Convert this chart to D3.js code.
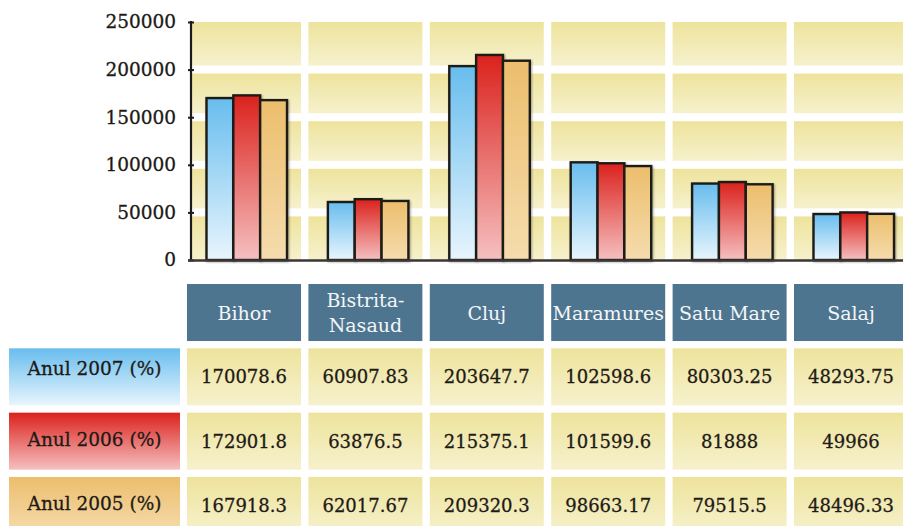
<!DOCTYPE html>
<html>
<head>
<meta charset="utf-8">
<script src="https://cdn.jsdelivr.net/npm/d3@7"></script>
<style>
    html, body { margin: 0; padding: 0; background: #fff; }
    #chart { width: 903px; height: 526px; overflow: hidden; }
</style>
</head>
<body>
<div id="chart"></div>
<script>
const categories = ['Bihor', 'Bistrita-Nasaud', 'Cluj', 'Maramures', 'Satu Mare', 'Salaj'];
const headerLabels = [['Bihor'], ['Bistrita-', 'Nasaud'], ['Cluj'], ['Maramures'], ['Satu Mare'], ['Salaj']];
const seriesNames = ['Anul 2007 (%)', 'Anul 2006 (%)', 'Anul 2005 (%)'];
const values2007 = [170078.6, 60907.83, 203647.7, 102598.6, 80303.25, 48293.75];
const values2006 = [172901.8, 63876.5, 215375.1, 101599.6, 81888, 49966];
const values2005 = [167918.3, 62017.67, 209320.3, 98663.17, 79515.5, 48496.33];
const valueLabels2007 = ['170078.6', '60907.83', '203647.7', '102598.6', '80303.25', '48293.75'];
const valueLabels2006 = ['172901.8', '63876.5', '215375.1', '101599.6', '81888', '49966'];
const valueLabels2005 = ['167918.3', '62017.67', '209320.3', '98663.17', '79515.5', '48496.33'];
const yTicks = [0, 50000, 100000, 150000, 200000, 250000];

class Chart {
    constructor() {
        const attrs = {
            container: '#chart',
            svgWidth: 903,
            svgHeight: 526,
            fontFamily: '"DejaVu Serif", Georgia, serif',
            textFill: '#1e1a16',
            headerFill: '#4e7590',
            seriesColors: [
                { top: '#68bdee', bottom: '#e8f5fd' },
                { top: '#db221d', bottom: '#f5c0c0' },
                { top: '#ecbe6c', bottom: '#f5dcae' }
            ],
            cellTop: '#eee39c',
            cellBottom: '#f6f1cd'
        };
        this.getState = () => attrs;
        this.setState = (d) => Object.assign(attrs, d);
        this.initializeEnterExitUpdatePattern();
    }

    initializeEnterExitUpdatePattern() {
        d3.selection.prototype.patternify = function (params) {
            const container = this;
            const selector = params.selector;
            const data = params.data || [selector];
            let selection = container.selectAll('.' + selector).data(data);
            selection.exit().remove();
            selection = selection.enter().append(params.tag).merge(selection);
            selection.attr('class', selector);
            return selection;
        };
    }

    render() {
        this.drawSvgAndDefs();
        this.calculateScales();
        this.drawGrid();
        this.drawBars();
        this.drawAxes();
        this.drawTable();
    }

    drawSvgAndDefs() {
        const { container, svgWidth, svgHeight, seriesColors, cellTop, cellBottom } = this.getState();
        const svg = d3.select(container)
            .patternify({ tag: 'svg', selector: 'svg-chart-container' })
            .attr('width', svgWidth)
            .attr('height', svgHeight);

        const defs = svg.patternify({ tag: 'defs', selector: 'defs' });
        const grads = [
            { id: 'grad-cell', top: cellTop, bottom: cellBottom },
            ...seriesColors.map((c, i) => ({ id: 'grad-s' + i, top: c.top, bottom: c.bottom }))
        ];
        const g = defs.patternify({ tag: 'linearGradient', selector: 'grad', data: grads })
            .attr('id', d => d.id)
            .attr('x1', 0).attr('y1', 0).attr('x2', 0).attr('y2', 1);
        g.patternify({ tag: 'stop', selector: 'stop-top', data: d => [d] })
            .attr('offset', '0%').attr('stop-color', d => d.top);
        g.patternify({ tag: 'stop', selector: 'stop-bottom', data: d => [d] })
            .attr('offset', '100%').attr('stop-color', d => d.bottom);

        const shadow = defs.patternify({ tag: 'filter', selector: 'bar-shadow' })
            .attr('id', 'bar-shadow')
            .attr('x', '-20%').attr('y', '-20%').attr('width', '140%').attr('height', '140%');
        shadow.patternify({ tag: 'feDropShadow', selector: 'drop' })
            .attr('dx', 1).attr('dy', 1).attr('stdDeviation', 1)
            .attr('flood-color', '#000').attr('flood-opacity', 0.35);

        this.setState({ svg });
    }

    calculateScales() {
        const xScale = d3.scaleBand().domain(categories).range([187, 908]).paddingInner(0.061).paddingOuter(0);
        const yScale = d3.scaleLinear().domain([0, 250000]).range([260, 22]);
        const xSeries = d3.scaleBand().domain(d3.range(seriesNames.length)).range([19.5, 100]).padding(0);
        const rowScale = d3.scaleBand().domain(['header', ...seriesNames]).range([284, 534]).paddingInner(0.1135).paddingOuter(0);
        this.setState({ xScale, yScale, xSeries, rowScale, axisX: 191 });
    }

    drawGrid() {
        const { svg, xScale, yScale, axisX } = this.getState();
        const gap = 4;
        const cells = [];
        categories.forEach((c) => {
            for (let i = 0; i < yTicks.length - 1; i++) {
                const x0 = Math.max(xScale(c), axisX);
                const top = yScale(yTicks[i + 1]) + (i + 1 < yTicks.length - 1 ? gap : 0);
                const bottom = yScale(yTicks[i]) - (i > 0 ? gap : 0);
                cells.push({ x: x0, w: xScale(c) + xScale.bandwidth() - x0, y: top, h: bottom - top });
            }
        });
        const gridWrap = svg.patternify({ tag: 'g', selector: 'grid-wrap' });
        gridWrap.patternify({ tag: 'rect', selector: 'grid-cell', data: cells })
            .attr('x', d => d.x)
            .attr('y', d => d.y)
            .attr('width', d => d.w)
            .attr('height', d => d.h)
            .attr('fill', 'url(#grad-cell)');
    }

    drawBars() {
        const { svg, xScale, yScale, xSeries } = this.getState();
        const seriesValues = [values2007, values2006, values2005];
        const bars = [];
        categories.forEach((c, ci) => {
            seriesValues.forEach((vals, si) => bars.push({ cat: c, s: si, v: vals[ci] }));
        });
        const barsWrap = svg.patternify({ tag: 'g', selector: 'bars-wrap' });
        barsWrap.patternify({ tag: 'rect', selector: 'bar', data: bars })
            .attr('x', d => xScale(d.cat) + xSeries(d.s))
            .attr('y', d => yScale(d.v))
            .attr('width', xSeries.bandwidth())
            .attr('height', d => yScale(0) - yScale(d.v))
            .attr('fill', d => `url(#grad-s${d.s})`)
            .attr('stroke', '#1e1a18')
            .attr('stroke-width', 2.4)
            .attr('filter', 'url(#bar-shadow)');
    }

    drawAxes() {
        const { svg, yScale, axisX, fontFamily, textFill } = this.getState();
        const axisWrap = svg.patternify({ tag: 'g', selector: 'y-axis' })
            .attr('transform', `translate(${axisX},0)`);
        const yAxis = d3.axisLeft(yScale).tickValues(yTicks).tickSize(3).tickPadding(12).tickFormat(d3.format('d'));
        axisWrap.call(yAxis);
        axisWrap.select('.domain').remove();
        axisWrap.selectAll('.tick line')
            .attr('x1', -3).attr('x2', 3)
            .attr('stroke', '#1e1a18').attr('stroke-width', 2);
        axisWrap.selectAll('.tick text')
            .attr('font-family', fontFamily)
            .attr('font-size', 18.5)
            .attr('fill', textFill)
            .attr('stroke', textFill)
            .attr('stroke-width', 0.3);

        axisWrap.patternify({ tag: 'line', selector: 'axis-line' })
            .attr('x1', 0).attr('x2', 0)
            .attr('y1', yScale(250000) - 1).attr('y2', yScale(0))
            .attr('stroke', '#1e1a18').attr('stroke-width', 2.2);

        svg.patternify({ tag: 'line', selector: 'baseline' })
            .attr('x1', axisX - 3).attr('x2', 903)
            .attr('y1', yScale(0) + 0.5).attr('y2', yScale(0) + 0.5)
            .attr('stroke', '#3a3634').attr('stroke-width', 2.6);
    }

    drawTable() {
        const { svg, xScale, rowScale, fontFamily, textFill, headerFill } = this.getState();
        const tableWrap = svg.patternify({ tag: 'g', selector: 'table-wrap' });
        const hy = rowScale('header');
        const rh = rowScale.bandwidth();

        // header cells
        const headers = categories.map((c, i) => ({ cat: c, lines: headerLabels[i] }));
        tableWrap.patternify({ tag: 'rect', selector: 'header-cell', data: headers })
            .attr('x', d => xScale(d.cat))
            .attr('y', hy)
            .attr('width', xScale.bandwidth())
            .attr('height', rh)
            .attr('fill', headerFill);
        const headerText = tableWrap.patternify({ tag: 'text', selector: 'header-text', data: headers })
            .attr('x', d => xScale(d.cat) + xScale.bandwidth() / 2)
            .attr('y', hy + rh / 2)
            .attr('text-anchor', 'middle')
            .attr('font-family', fontFamily)
            .attr('font-size', 19)
            .attr('fill', '#f4f6f8');
        headerText.patternify({ tag: 'tspan', selector: 'header-line', data: d => d.lines.map((l, i) => ({ l, i, n: d.lines.length, d })) })
            .attr('x', d => xScale(d.d.cat) + xScale.bandwidth() / 2)
            .attr('dy', d => d.i === 0 ? (7 - (d.n - 1) * 12.5) : 25)
            .text(d => d.l);

        // legend cells
        const legends = seriesNames.map((s, i) => ({ name: s, i }));
        tableWrap.patternify({ tag: 'rect', selector: 'legend-cell', data: legends })
            .attr('x', 9)
            .attr('y', d => rowScale(d.name))
            .attr('width', 171)
            .attr('height', rh)
            .attr('fill', d => `url(#grad-s${d.i})`);
        tableWrap.patternify({ tag: 'text', selector: 'legend-text', data: legends })
            .attr('x', 9 + 171 / 2)
            .attr('y', d => rowScale(d.name) + rh / 2 + (d.i === 0 ? -2 : 5))
            .attr('text-anchor', 'middle')
            .attr('font-family', fontFamily)
            .attr('font-size', 18.5)
            .attr('fill', textFill)
            .attr('stroke', textFill)
            .attr('stroke-width', 0.3)
            .text(d => d.name);

        // value cells
        const labelSets = [valueLabels2007, valueLabels2006, valueLabels2005];
        const cells = [];
        seriesNames.forEach((s, si) => {
            categories.forEach((c, ci) => cells.push({ row: s, cat: c, label: labelSets[si][ci] }));
        });
        tableWrap.patternify({ tag: 'rect', selector: 'value-cell', data: cells })
            .attr('x', d => xScale(d.cat))
            .attr('y', d => rowScale(d.row))
            .attr('width', xScale.bandwidth())
            .attr('height', rh)
            .attr('fill', 'url(#grad-cell)');
        tableWrap.patternify({ tag: 'text', selector: 'value-text', data: cells })
            .attr('x', d => xScale(d.cat) + xScale.bandwidth() / 2)
            .attr('y', d => rowScale(d.row) + rh / 2 + 6.5)
            .attr('text-anchor', 'middle')
            .attr('font-family', fontFamily)
            .attr('font-size', 18)
            .attr('fill', textFill)
            .attr('stroke', textFill)
            .attr('stroke-width', 0.3)
            .text(d => d.label);
    }
}

new Chart().render();
</script>
</body>
</html>
